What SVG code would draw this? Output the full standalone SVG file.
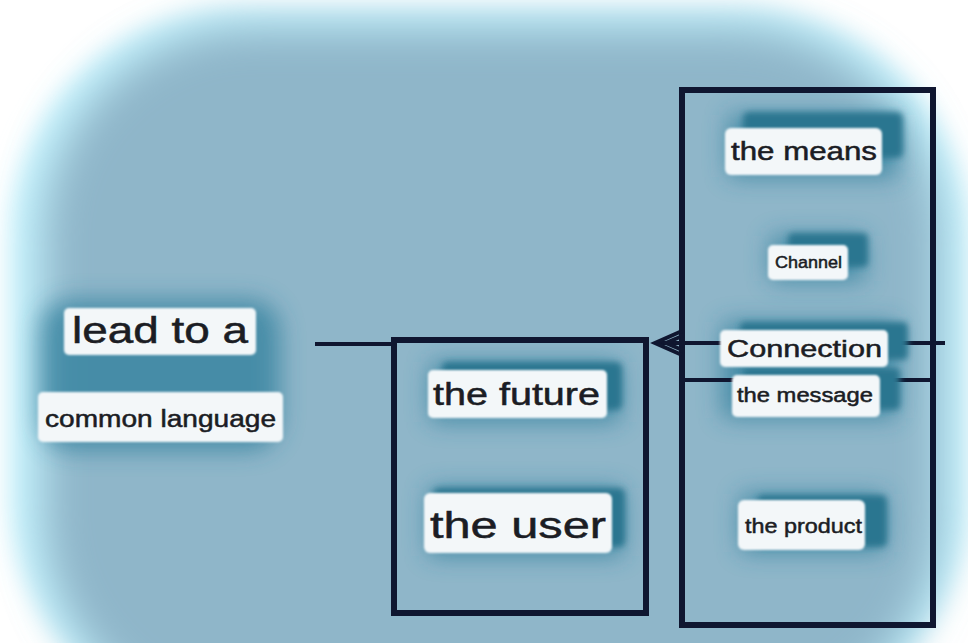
<svg xmlns="http://www.w3.org/2000/svg" width="968" height="643" viewBox="0 0 968 643">
<defs>
  <filter id="bgblur" x="-20%" y="-20%" width="140%" height="140%"><feGaussianBlur stdDeviation="12"/></filter>
  <filter id="bgblur2" x="-20%" y="-20%" width="140%" height="140%"><feGaussianBlur stdDeviation="22"/></filter>
  <filter id="halo" x="-50%" y="-80%" width="200%" height="260%"><feGaussianBlur stdDeviation="12"/></filter>
  <filter id="ghost" x="-20%" y="-40%" width="140%" height="180%"><feGaussianBlur stdDeviation="3"/></filter>
  <filter id="soft" x="-10%" y="-20%" width="120%" height="140%"><feGaussianBlur stdDeviation="0.8"/></filter>
</defs>
<style>
  .halo { fill: #2f7f9c; opacity: 0.75; filter: url(#halo); }
  .ghost { fill: #2c7690; filter: url(#ghost); }
  .box { fill: #f3f7f9; filter: url(#soft); }
  .lbl { font-family: "Liberation Sans", Arial, sans-serif; fill: #1b1d24; stroke: #1b1d24; stroke-width: 0.5; text-anchor: start; }
  .frame { fill: none; stroke: #0f1630; stroke-width: 6; }
  .conn { fill: none; stroke: #0f1630; stroke-width: 4; }
</style>

<!-- background blob -->
<rect x="0" y="0" width="968" height="643" fill="#ffffff"/>
<rect x="10" y="8" width="958" height="720" rx="230" fill="#c6f4ff" filter="url(#bgblur)"/>
<rect x="42" y="26" width="900" height="700" rx="210" fill="#8fb6c9" filter="url(#bgblur2)"/>

<!-- halos -->
<rect class="halo" x="40" y="300" width="240" height="150" rx="30"/>
<rect class="halo" x="430" y="362" width="190" height="60"/>
<rect class="halo" x="428" y="488" width="195" height="68"/>
<rect class="halo" x="728" y="115" width="170" height="62"/>
<rect class="halo" x="770" y="236" width="95" height="45"/>
<rect class="halo" x="722" y="322" width="175" height="96"/>
<rect class="halo" x="740" y="494" width="145" height="58"/>

<!-- frames -->
<g id="group-middle">
  <rect class="frame" x="394" y="340" width="252" height="273"/>
</g>
<g id="group-right">
  <rect class="frame" x="682" y="90" width="251" height="535"/>
  <line x1="682" y1="380" x2="930" y2="380" stroke="#0f1630" stroke-width="4"/>
</g>

<!-- connectors -->
<g id="connectors">
  <line class="conn" x1="315" y1="344" x2="394" y2="344"/>
  <line class="conn" x1="655" y1="343" x2="945" y2="343"/>
  <polyline class="conn" points="682,331 655,343 682,355"/>
  <polyline class="conn" stroke-width="2.5" points="680,337 666,343 680,349"/>
</g>

<!-- ghosts -->
<rect class="ghost" x="743" y="112" width="160" height="46" rx="6"/>
<rect class="ghost" x="788" y="233" width="80" height="34" rx="5"/>
<rect class="ghost" x="740" y="322" width="168" height="38" rx="5"/>
<rect class="ghost" x="743" y="368" width="157" height="42" rx="5"/>
<rect class="ghost" x="757" y="495" width="130" height="52" rx="6"/>
<rect class="ghost" x="442" y="362" width="180" height="48" rx="6"/>
<rect class="ghost" x="433" y="488" width="192" height="59" rx="6"/>

<g id="node-lead">
  <rect class="box" x="64" y="308" width="192" height="47" rx="5"/>
  <text class="lbl" x="72" y="343" font-size="36" textLength="176" lengthAdjust="spacingAndGlyphs">lead to a</text>
</g>
<g id="node-common">
  <rect class="box" x="38" y="392" width="245" height="50" rx="5"/>
  <text class="lbl" x="45" y="427" font-size="23" textLength="231" lengthAdjust="spacingAndGlyphs">common language</text>
</g>
<g id="node-future">
  <rect class="box" x="428" y="370" width="179" height="48" rx="5"/>
  <text class="lbl" x="433" y="405" font-size="31" textLength="167" lengthAdjust="spacingAndGlyphs">the future</text>
</g>
<g id="node-user">
  <rect class="box" x="424" y="493" width="188" height="60" rx="6"/>
  <text class="lbl" x="430" y="538" font-size="37" textLength="176" lengthAdjust="spacingAndGlyphs">the user</text>
</g>
<g id="node-means">
  <rect class="box" x="725" y="128" width="157" height="47" rx="6"/>
  <text class="lbl" x="731" y="160" font-size="25" textLength="146" lengthAdjust="spacingAndGlyphs">the means</text>
</g>
<g id="node-channel">
  <rect class="box" x="768" y="245" width="80" height="35" rx="5"/>
  <text class="lbl" x="775" y="268" font-size="17" textLength="67" lengthAdjust="spacingAndGlyphs">Channel</text>
</g>
<g id="node-connection">
  <rect class="box" x="720" y="330" width="168" height="37" rx="5"/>
  <text class="lbl" x="727" y="357" font-size="24" textLength="155" lengthAdjust="spacingAndGlyphs">Connection</text>
</g>
<g id="node-message">
  <rect class="box" x="732" y="375" width="148" height="42" rx="5"/>
  <text class="lbl" x="737" y="402" font-size="20" textLength="136" lengthAdjust="spacingAndGlyphs">the message</text>
</g>
<g id="node-product">
  <rect class="box" x="738" y="500" width="127" height="50" rx="6"/>
  <text class="lbl" x="745" y="533" font-size="21" textLength="117" lengthAdjust="spacingAndGlyphs">the product</text>
</g>
</svg>
